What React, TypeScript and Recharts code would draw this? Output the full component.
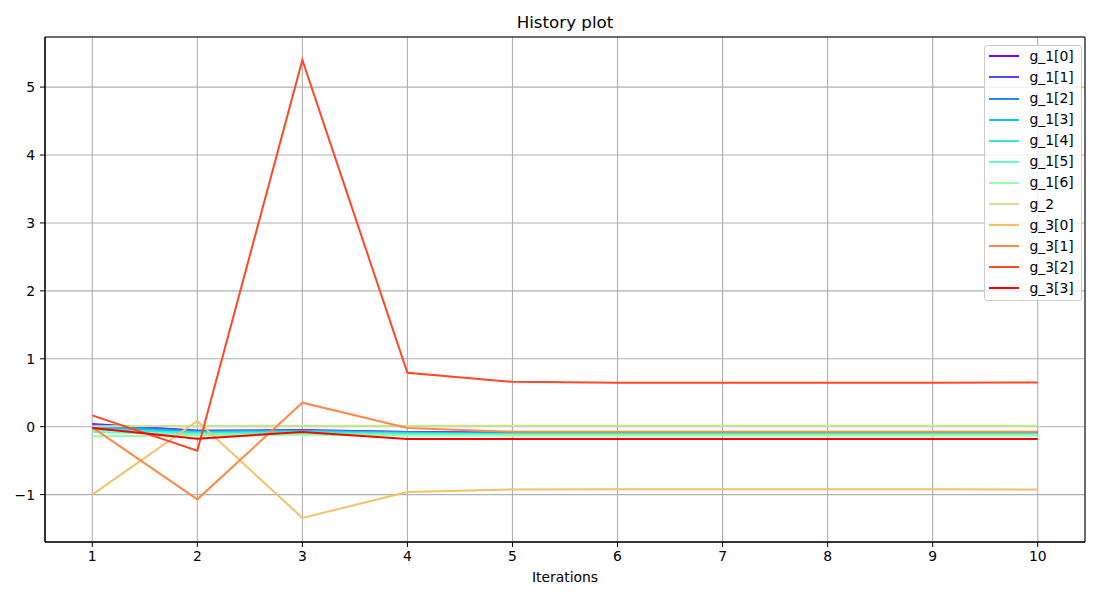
import React from 'react';
import {
  LineChart, Line, XAxis, YAxis, CartesianGrid, ReferenceArea,
} from 'recharts';

const iterations = [1, 2, 3, 4, 5, 6, 7, 8, 9, 10];
const xTicks = [1, 2, 3, 4, 5, 6, 7, 8, 9, 10];
const yTicks = [-1, 0, 1, 2, 3, 4, 5];

const seriesNames = [
  'g_1[0]', 'g_1[1]', 'g_1[2]', 'g_1[3]', 'g_1[4]', 'g_1[5]', 'g_1[6]',
  'g_2', 'g_3[0]', 'g_3[1]', 'g_3[2]', 'g_3[3]',
];
const seriesColors = [
  '#8000ff', '#5148fc', '#238af5', '#0cc1e8', '#3ae8d7', '#68fcc1', '#97fca7',
  '#c5e88a', '#f3c16a', '#ff8a48', '#ff4824', '#ff0000',
];

const g1_0 = [0.04, -0.06, -0.05, -0.08, -0.09, -0.09, -0.09, -0.09, -0.09, -0.09];
const g1_1 = [0.03, -0.06, -0.06, -0.08, -0.09, -0.09, -0.09, -0.09, -0.09, -0.09];
const g1_2 = [0.01, -0.07, -0.07, -0.09, -0.10, -0.10, -0.10, -0.10, -0.10, -0.10];
const g1_3 = [-0.01, -0.08, -0.06, -0.09, -0.10, -0.10, -0.10, -0.10, -0.10, -0.10];
const g1_4 = [-0.04, -0.09, -0.08, -0.10, -0.11, -0.11, -0.11, -0.11, -0.11, -0.11];
const g1_5 = [-0.08, -0.11, -0.10, -0.12, -0.12, -0.12, -0.12, -0.12, -0.12, -0.12];
const g1_6 = [-0.14, -0.13, -0.12, -0.13, -0.13, -0.13, -0.13, -0.13, -0.13, -0.13];
const g2 = [0.005, 0.01, 0.015, 0.015, 0.015, 0.015, 0.015, 0.015, 0.015, 0.015];
const g3_0 = [-1.0, 0.083, -1.343, -0.961, -0.925, -0.92, -0.92, -0.922, -0.922, -0.925];
const g3_1 = [-0.01, -1.07, 0.353, -0.02, -0.075, -0.075, -0.075, -0.075, -0.075, -0.075];
const g3_2 = [0.166, -0.353, 5.40, 0.794, 0.66, 0.648, 0.647, 0.647, 0.648, 0.652];
const g3_3 = [-0.02, -0.176, -0.078, -0.18, -0.18, -0.18, -0.18, -0.18, -0.18, -0.18];

const seriesValues = [g1_0, g1_1, g1_2, g1_3, g1_4, g1_5, g1_6, g2, g3_0, g3_1, g3_2, g3_3];

const data = iterations.map((it, i) => {
  const row: Record<string, number> = { it };
  seriesNames.forEach((n, k) => { row[n] = seriesValues[k][i]; });
  return row;
});

const FONT = '"DejaVu Sans", sans-serif';
const XMIN = 0.55, XMAX = 10.45, YMIN = -1.698, YMAX = 5.738;

const fmt = (v: number) => (v < 0 ? '\u2212' + Math.abs(v) : String(v));

const LegendBox = () => (
  <div style={{
    position: 'absolute', left: 984, top: 45,
    width: 98, height: 256, boxSizing: 'border-box', border: '1px solid #cccccc',
    borderRadius: 3, background: 'rgba(255,255,255,0.8)', fontFamily: FONT, fontSize: 13.9,
  }}>
    {seriesNames.map((n, k) => (
      <div key={n} style={{ position: 'absolute', left: 0, top: 10.3 + k * 21.1 - 10.5, height: 21, width: 97 }}>
        <div style={{ position: 'absolute', left: 3.5, top: 9.5, width: 30, height: 2, background: seriesColors[k] }} />
        <div style={{ position: 'absolute', left: 44.5, top: 1, lineHeight: '19px', color: '#000', whiteSpace: 'nowrap' }}>{n}</div>
      </div>
    ))}
  </div>
);

export default function App() {
  return (
    <div style={{ position: 'absolute', left: 0, top: 0, width: 1100, height: 600, background: '#fff' }}>
      <div style={{
        position: 'absolute', left: 45, width: 1040, top: 12, textAlign: 'center',
        fontFamily: FONT, fontSize: 16.7, color: '#000', lineHeight: '20px',
      }}>History plot</div>
      <div style={{
        position: 'absolute', left: 45, width: 1040, top: 568, textAlign: 'center',
        fontFamily: FONT, fontSize: 13.9, color: '#000', lineHeight: '18px',
      }}>Iterations</div>
      <LineChart width={1100} height={600} data={data}
        margin={{ top: 37, right: 15, bottom: 0, left: 0 }}>
        <CartesianGrid stroke="#b0b0b0" strokeWidth={1.1} />
        <XAxis dataKey="it" type="number" domain={[XMIN, XMAX]} ticks={xTicks}
          allowDataOverflow height={58} interval={0}
          tick={{ fontFamily: FONT, fontSize: 13.9, fill: '#000' }}
          tickLine={{ stroke: '#000' }} tickSize={5} tickMargin={4}
          axisLine={{ stroke: '#000' }} />
        <YAxis type="number" domain={[YMIN, YMAX]} ticks={yTicks} allowDataOverflow
          width={45} interval={0} tickFormatter={fmt}
          tick={{ fontFamily: FONT, fontSize: 13.9, fill: '#000' }}
          tickLine={{ stroke: '#000' }} tickSize={5} tickMargin={5}
          axisLine={{ stroke: '#000' }} />
        <ReferenceArea x1={XMIN} x2={XMAX} y1={YMIN} y2={YMAX} fill="none"
          fillOpacity={0} stroke="#000" strokeWidth={1} ifOverflow="visible" />
        {seriesNames.map((n, k) => (
          <Line key={n} dataKey={n} type="linear" stroke={seriesColors[k]} strokeWidth={2}
            dot={false} activeDot={false} isAnimationActive={false} />
        ))}
      </LineChart>
      <LegendBox />
    </div>
  );
}
